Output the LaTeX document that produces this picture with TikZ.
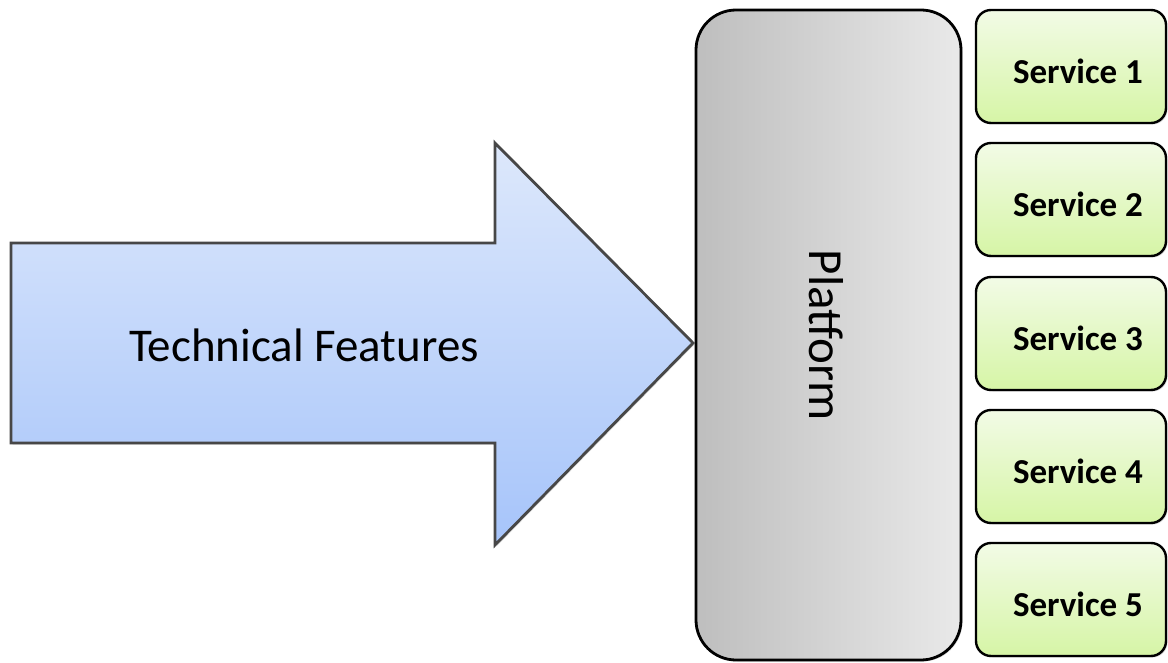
\documentclass[tikz,border=0pt]{standalone}
\usepackage{fontspec}
\setmainfont{Carlito}
\usetikzlibrary{shadows}
\definecolor{arrowtop}{HTML}{DDE8FB}
\definecolor{arrowbot}{HTML}{A6C4FA}
\definecolor{platleft}{HTML}{BEBEBE}
\definecolor{platright}{HTML}{E9E9E9}
\definecolor{svctop}{HTML}{F2FBE6}
\definecolor{svcbot}{HTML}{D6F5A6}
\tikzset{
  feature/.style={draw=black!72, line width=2.8pt, top color=arrowtop, bottom color=arrowbot,
    drop shadow={shadow xshift=1.5pt, shadow yshift=-1.5pt, opacity=0.3}},
  platbox/.style={draw=black, line width=2.8pt, rounded corners=40pt, left color=platleft, right color=platright,
    drop shadow={shadow xshift=1.5pt, shadow yshift=-1.5pt, opacity=0.3}},
  svcbox/.style={draw=black, line width=2.4pt, rounded corners=15pt, top color=svctop, bottom color=svcbot,
    minimum width=190pt, minimum height=113pt, inner sep=0pt,
    drop shadow={shadow xshift=1.5pt, shadow yshift=-1.5pt, opacity=0.3}},
  svclabel/.style={font=\fontsize{35}{40}\selectfont\bfseries},
}
\begin{document}
\begin{tikzpicture}[x=1pt, y=-1pt]
\useasboundingbox (0,0) rectangle (1168,663);

% block arrow carrying the feature label
\filldraw[feature] (11,243) -- (495,243) -- (495,143) -- (693,343) -- (495,545) -- (495,443) -- (11,443) -- cycle;
\node (feat) at (304,345) {\fontsize{47}{52}\selectfont Technical Features};

% platform column
\draw[platbox] (696,10) rectangle (961,660);
\node[rotate=-90] (plat) at (826,335) {\fontsize{49}{54}\selectfont Platform};

% services stacked on the right
\foreach \i/\y in {1/66.5, 2/199.5, 3/333.5, 4/466.5, 5/599.5} {
  \node[svcbox] (s\i) at (1071,\y) {};
  \node[svclabel] (t\i) at ([xshift=7pt, yshift=-5pt]s\i.center) {Service \i};
}
\end{tikzpicture}
\end{document}
